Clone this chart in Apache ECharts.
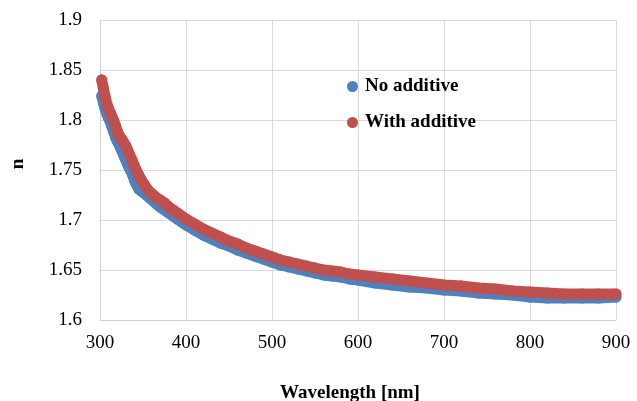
<!DOCTYPE html>
<html>
<head>
<meta charset="utf-8">
<script src="https://cdn.jsdelivr.net/npm/echarts@6/dist/echarts.min.js"></script>
<style>
  html, body { margin: 0; padding: 0; background: #fff; }
  #chart { width: 637px; height: 401px; }
</style>
</head>
<body>
<div id="chart"></div>
<script>
// wavelength [nm]
const wavelength = [
  302, 304, 306, 308, 310, 312, 314, 316, 318, 320, 322, 324, 326, 328, 330, 332, 334, 336, 338, 340, 342,
  345, 348, 351, 354, 358, 362, 366, 370, 375, 380, 385, 390, 395, 400,
  410, 420, 430, 440, 450, 460, 470, 480, 490, 500, 510, 520, 530, 540, 550, 560, 570, 580, 590, 600,
  620, 640, 660, 680, 700, 720, 740, 760, 780, 800, 820, 840, 860, 880, 900
]
// refractive index n
const nNoAdditive = [
  1.824, 1.817, 1.811, 1.806, 1.802, 1.798, 1.793, 1.788, 1.783, 1.779, 1.776, 1.772, 1.768, 1.764, 1.760, 1.756, 1.752, 1.749, 1.745, 1.740, 1.736,
  1.731, 1.729, 1.727, 1.725, 1.722, 1.719, 1.716, 1.713, 1.710, 1.707, 1.704, 1.701, 1.698, 1.695,
  1.690, 1.685, 1.681, 1.677, 1.674, 1.670, 1.667, 1.664, 1.661, 1.658, 1.655, 1.653, 1.651, 1.649, 1.647, 1.645, 1.644, 1.643, 1.641, 1.640,
  1.637, 1.635, 1.633, 1.632, 1.630, 1.629, 1.627, 1.626, 1.625, 1.623, 1.622, 1.622, 1.622, 1.622, 1.623
]
const nWithAdditive = [
  1.840, 1.831, 1.823, 1.816, 1.811, 1.807, 1.803, 1.799, 1.794, 1.789, 1.785, 1.782, 1.780, 1.777, 1.774, 1.770, 1.766, 1.762, 1.758, 1.754, 1.750,
  1.745, 1.740, 1.736, 1.732, 1.728, 1.725, 1.722, 1.720, 1.717, 1.713, 1.710, 1.707, 1.704, 1.701,
  1.696, 1.691, 1.687, 1.683, 1.679, 1.676, 1.672, 1.669, 1.666, 1.663, 1.660, 1.658, 1.656, 1.654, 1.652, 1.650, 1.649, 1.648, 1.646, 1.645,
  1.643, 1.641, 1.639, 1.637, 1.635, 1.634, 1.632, 1.631, 1.629, 1.628, 1.627, 1.626, 1.626, 1.626, 1.626
]
// axis ticks
const xTicks = [300, 400, 500, 600, 700, 800, 900]
const yTicks = [1.6, 1.65, 1.7, 1.75, 1.8, 1.85, 1.9]

const serif = '"Liberation Serif", serif'
const pairs = (ys) => wavelength.map((x, i) => [x, ys[i]])

// 粗线+圆点, 看起来像 Excel 的密集散点
const makeSeries = (name, ys, color, z) => ({
  name,
  type: 'line',
  data: pairs(ys),
  z,
  symbol: 'circle',
  symbolSize: 11,
  showSymbol: true,
  itemStyle: { color },
  lineStyle: { color, width: 11, cap: 'round', join: 'round' },
})

const chart = echarts.init(document.getElementById('chart'))
chart.setOption({
  animation: false,
  grid: { left: 100, right: 21, top: 20, bottom: 81, outerBoundsMode: 'none' },
  legend: {
    orient: 'vertical',
    left: 347,
    top: 77,
    padding: 0,
    itemGap: 17,
    itemWidth: 11,
    itemHeight: 11,
    icon: 'circle',
    textStyle: { fontFamily: serif, fontWeight: 'bold', fontSize: 19, color: '#000', padding: [0, 0, 0, 2] },
  },
  xAxis: {
    type: 'value',
    min: xTicks[0],
    max: xTicks[xTicks.length - 1],
    interval: xTicks[1] - xTicks[0],
    name: 'Wavelength [nm]',
    nameLocation: 'middle',
    nameGap: 64,
    nameTextStyle: { fontFamily: serif, fontWeight: 'bold', fontSize: 19, color: '#000', padding: [0, 16, 0, 0] },
    axisLine: { lineStyle: { color: '#d0d0d0' } },
    axisTick: { show: false },
    axisLabel: { fontFamily: serif, fontSize: 19, color: '#000', margin: 14 },
    splitLine: { lineStyle: { color: '#d9d9d9' } },
  },
  yAxis: {
    type: 'value',
    min: yTicks[0],
    max: yTicks[yTicks.length - 1],
    interval: 0.05,
    name: 'n',
    nameLocation: 'middle',
    nameGap: 72,
    nameTextStyle: { fontFamily: serif, fontWeight: 'bold', fontSize: 19, color: '#000', padding: [0, 0, 0, 12] },
    axisLine: { show: true, lineStyle: { color: '#d0d0d0' } },
    axisTick: { show: false },
    axisLabel: {
      fontFamily: serif, fontSize: 19, color: '#000', margin: 18,
      formatter: (v) => v.toFixed(2).replace(/0$/, ''),
    },
    splitLine: { lineStyle: { color: '#d9d9d9' } },
  },
  series: [
    makeSeries('No additive', nNoAdditive, '#4f81bd', 2),
    makeSeries('With additive', nWithAdditive, '#c0504d', 3),
  ],
})
</script>
</body>
</html>
